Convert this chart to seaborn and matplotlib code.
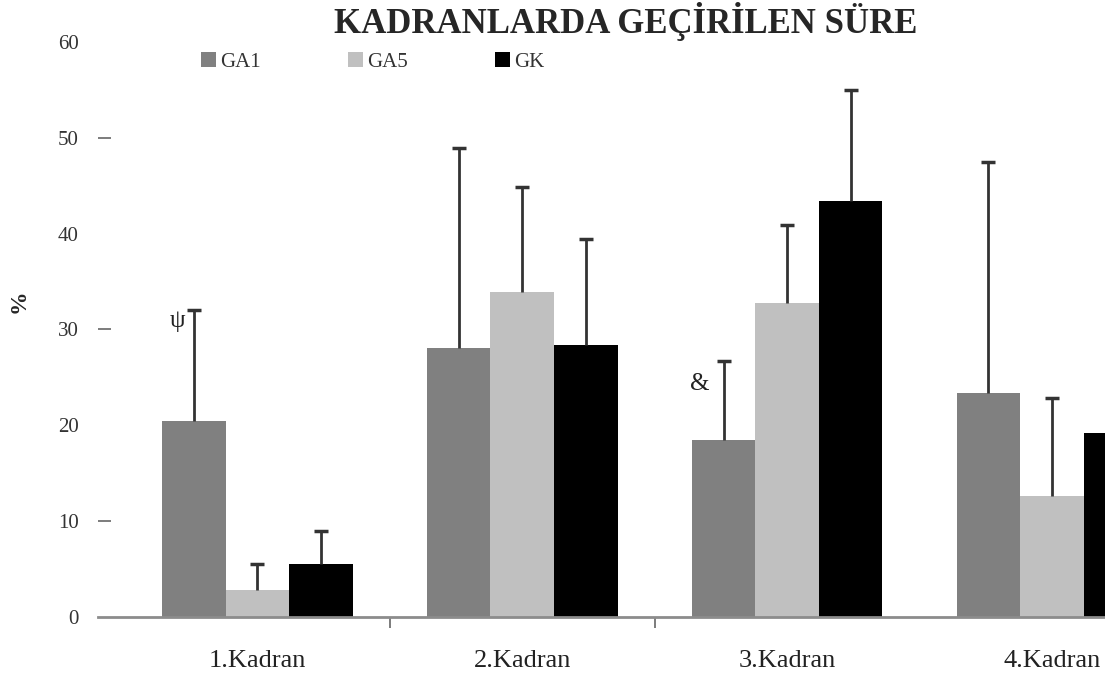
import numpy as np
import pandas as pd
import matplotlib
matplotlib.use("Agg")
import matplotlib.pyplot as plt
import seaborn as sns

# values (mean and upper SD per quadrant)
categories = ["1.Kadran", "2.Kadran", "3.Kadran", "4.Kadran"]
groups = ["GA1", "GA5", "GK"]
ga1_mean = [20.5, 28.1, 18.5, 23.4]
ga1_sd = [11.5, 20.8, 8.2, 24.1]
ga5_mean = [2.8, 33.9, 32.8, 12.6]
ga5_sd = [2.7, 11.0, 8.1, 10.2]
gk_mean = [5.5, 28.4, 43.4, 19.2]
gk_sd = [3.5, 11.0, 11.6, 6.0]
y_ticks = [0, 10, 20, 30, 40, 50, 60]

colors = {"GA1": "#808080", "GA5": "#c0c0c0", "GK": "#000000"}

means = {"GA1": ga1_mean, "GA5": ga5_mean, "GK": gk_mean}
sds = {"GA1": ga1_sd, "GA5": ga5_sd, "GK": gk_sd}

rows = []
for g in groups:
    for c, m in zip(categories, means[g]):
        rows.append({"Kadran": c, "Grup": g, "Yuzde": m})
df = pd.DataFrame(rows)

sns.set_theme(style="white")
plt.rcParams["font.family"] = ["Liberation Serif", "DejaVu Serif"]

fig = plt.figure(figsize=(11.05, 6.83), dpi=100)
ax = fig.add_axes([0.089, 0.0966, 0.911, 0.842])

sns.barplot(data=df, x="Kadran", y="Yuzde", hue="Grup", hue_order=groups,
            palette=colors, width=0.72, errorbar=None, saturation=1,
            linewidth=0, ax=ax)

# one-sided (upper) error bars on each bar
for g, cont in zip(groups, ax.containers):
    xs = [p.get_x() + p.get_width() / 2 for p in cont]
    hs = [p.get_height() for p in cont]
    eb = ax.errorbar(xs, hs, yerr=[np.zeros(len(hs)), sds[g]], fmt="none",
                     ecolor="#333333", elinewidth=2, capsize=5, capthick=2.5)
    # drop the cap at the bar top, keep only the upper one
    eb[1][0].set_visible(False)

# significance marks
p0 = ax.containers[0][0]
ax.text(p0.get_x() + p0.get_width() / 2 - 0.06, ga1_mean[0] + ga1_sd[0], "ψ",
        ha="center", va="top", fontsize=18, color="#222222")
p2 = ax.containers[0][2]
ax.text(p2.get_x() + p2.get_width() / 2 - 0.09, ga1_mean[2] + ga1_sd[2] - 1.2, "&",
        ha="center", va="top", fontsize=18, color="#222222")

ax.set_ylim(0, 60)
ax.set_xlim(-0.6, 3.2)
ax.set_yticks(y_ticks)
ax.set_yticklabels([str(t) for t in y_ticks], fontsize=15, color="#333333")
ax.yaxis.remove_overlapping_locs = False
ax.set_yticks([10, 30, 50], minor=True)
ax.tick_params(axis="y", which="major", length=0, pad=14)
ax.tick_params(axis="y", which="minor", direction="in", length=9, width=1.2,
               color="#666666", left=True)
ax.set_xticks(range(len(categories)))
ax.set_xticklabels(categories, fontsize=19, color="#222222")
ax.set_xticks([0.5, 1.5], minor=True)
ax.tick_params(axis="x", which="major", length=0, pad=24)
ax.tick_params(axis="x", which="minor", direction="out", length=8, width=1.2,
               color="#666666", bottom=True)

ax.set_xlabel("")
ax.set_ylabel("%", fontsize=17, fontweight="bold")
ax.yaxis.set_label_coords(-0.068, 0.55)

for s in ["top", "right", "left"]:
    ax.spines[s].set_visible(False)
ax.spines["bottom"].set_color("#8c8c8c")
ax.spines["bottom"].set_linewidth(2)

handles, labels = ax.get_legend_handles_labels()
if ax.get_legend() is not None:
    ax.get_legend().remove()
fig.legend(handles, labels, ncol=3, loc="center left",
           bbox_to_anchor=(0.165, 1 - 62 / 683), frameon=False, fontsize=15,
           handlelength=0.7, handleheight=0.7, handletextpad=0.2,
           columnspacing=4.2, labelcolor="#333333")

fig.text(0.566, 0.968, "KADRANLARDA GEÇİRİLEN SÜRE", ha="center", va="center",
         fontsize=25, fontweight="bold")

fig.savefig("out.png", dpi=100)
